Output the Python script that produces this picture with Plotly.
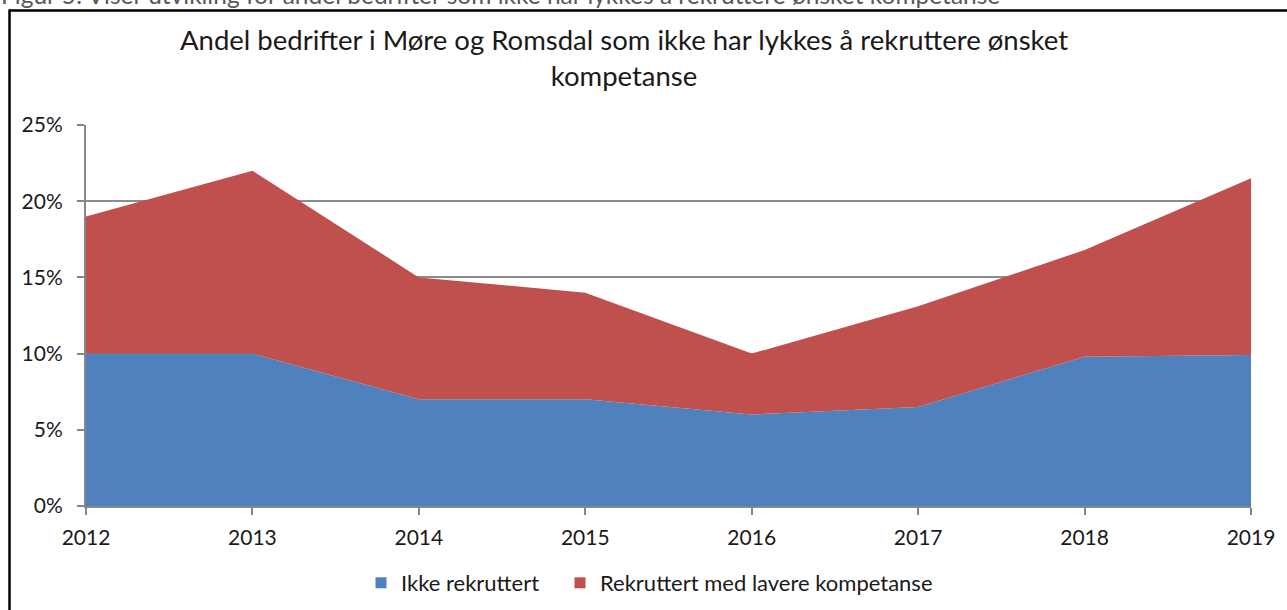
import plotly.graph_objects as go

years = [2012, 2013, 2014, 2015, 2016, 2017, 2018, 2019]
ikke_rekruttert = [10, 10, 7, 7, 6, 6.5, 9.8, 9.9]
lavere_kompetanse = [9, 12, 8, 7, 4, 6.6, 7.0, 11.6]
series_names = ["Ikke rekruttert", "Rekruttert med lavere kompetanse"]
series_colors = ["#4F81BD", "#C0504D"]
y_ticks = [0, 5, 10, 15, 20, 25]
title_text = "Andel bedrifter i Møre og Romsdal som ikke har lykkes å rekruttere ønsket<br>kompetanse"
caption_text = "Figur 5: Viser utvikling for andel bedrifter som ikke har lykkes å rekruttere ønsket kompetanse"

FONT = "Lato"
W, H = 1287, 610
L, R, T, B = 86, 36, 125, 104
pw, ph = W - L - R, H - T - B

def px_x(px):
    return (px - L) / pw

def px_y(py):
    return (H - B - py) / ph

fig = go.Figure()
for vals, name, col in zip([ikke_rekruttert, lavere_kompetanse], series_names, series_colors):
    fig.add_trace(go.Scatter(x=years, y=vals, name=name, mode="lines", showlegend=False,
                             stackgroup="one", line=dict(width=0, color=col), fillcolor=col))
# legend swatches (square markers, no data), one legend box per entry
legend_ids = ["legend", "legend2"]
for name, col, lg in zip(series_names, series_colors, legend_ids):
    fig.add_trace(go.Scatter(x=[None], y=[None], name=name, mode="markers", legend=lg,
                             marker=dict(symbol="square", size=11, color=col)))

def legend_box(x_px):
    return dict(orientation="h", xref="container", yref="container",
                x=x_px / W, xanchor="left", y=(H - 583) / H, yanchor="middle",
                font=dict(size=22, color="#1a1a1a"), itemwidth=30,
                bgcolor="rgba(0,0,0,0)")

fig.update_layout(
    width=W, height=H,
    margin=dict(l=L, r=R, t=T, b=B, pad=0, autoexpand=False),
    paper_bgcolor="white", plot_bgcolor="white",
    font=dict(family=FONT, size=21, color="#1a1a1a"),
    showlegend=True,
    legend=legend_box(361),
    legend2=legend_box(560),
    xaxis=dict(range=[2012, 2019], tickvals=years, ticktext=[str(y) for y in years],
               showgrid=False, showline=True, linecolor="#868686", linewidth=2,
               ticks="outside", ticklen=7, tickcolor="#868686", tickwidth=2,
               tickfont=dict(size=21), zeroline=False, ticklabelstandoff=5),
    yaxis=dict(range=[0, 25], tickvals=y_ticks, ticktext=[f"{v}%" for v in y_ticks],
               showgrid=True, gridcolor="#8c8c8c", gridwidth=2,
               showline=True, linecolor="#868686", linewidth=2,
               ticks="outside", ticklen=7, tickcolor="#868686", tickwidth=2,
               tickfont=dict(size=21), zeroline=False, ticklabelstandoff=10),
    annotations=[
        dict(text=title_text, xref="paper", yref="paper", x=px_x(624), y=px_y(57.5),
             xanchor="center", yanchor="middle", showarrow=False,
             font=dict(size=27.5, color="#1a1a1a", family=FONT)),
        dict(text=caption_text, xref="paper", yref="paper", x=px_x(-1), y=px_y(-6),
             xanchor="left", yanchor="middle", showarrow=False,
             font=dict(size=24.5, color="#595959", family=FONT)),
    ],
    shapes=[
        dict(type="line", xref="paper", yref="paper", x0=px_x(9), x1=px_x(1300),
             y0=px_y(10.5), y1=px_y(10.5), line=dict(color="black", width=2.5)),
        dict(type="line", xref="paper", yref="paper", x0=px_x(9.5), x1=px_x(9.5),
             y0=px_y(9.5), y1=px_y(620), line=dict(color="black", width=2.5)),
    ],
)

fig.write_html("out.html", config={"displayModeBar": False},
               post_script="document.body.style.margin='0px';document.body.style.overflow='hidden';")
